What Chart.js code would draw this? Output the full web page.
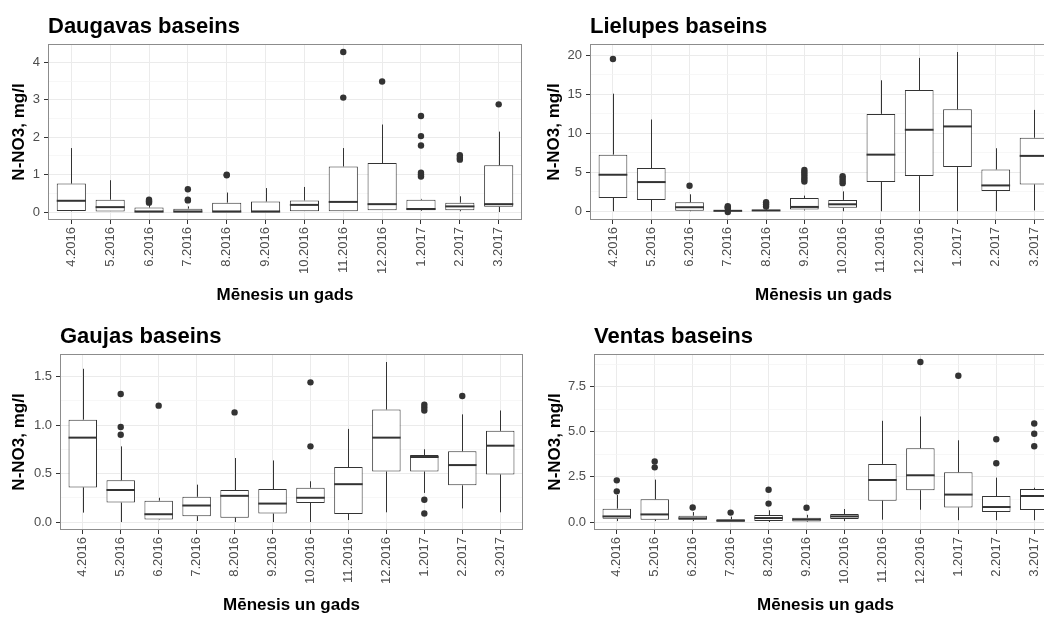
<!DOCTYPE html>
<html>
<head>
<meta charset="utf-8">
<script src="https://cdn.jsdelivr.net/npm/chart.js@4"></script>
<style>
  html, body { margin: 0; padding: 0; overflow: hidden; background: #fff; }
  #wrap { position: relative; width: 1044px; height: 617px; overflow: hidden; }
  canvas { position: absolute; }
</style>
</head>
<body>
<div id="wrap">
  <canvas id="cDaug" width="522" height="310" style="left:0;top:0"></canvas>
  <canvas id="cLiel" width="535" height="310" style="left:522px;top:0"></canvas>
  <canvas id="cGauj" width="523" height="310" style="left:0;top:310px"></canvas>
  <canvas id="cVent" width="535" height="310" style="left:522px;top:310px"></canvas>
</div>
<script>
const months = ['4.2016', '5.2016', '6.2016', '7.2016', '8.2016', '9.2016', '10.2016', '11.2016', '12.2016', '1.2017', '2.2017', '3.2017'];

// Daugavas baseins
const daugLo  = [0.02, 0, 0, 0, 0, 0, 0.02, 0.02, 0.05, 0.03, 0.02, 0];
const daugQ1  = [0.03, 0, 0, 0, 0, 0, 0.02, 0.02, 0.05, 0.05, 0.05, 0.14];
const daugMed = [0.30, 0.13, 0.01, 0.01, 0.01, 0.01, 0.19, 0.27, 0.21, 0.08, 0.15, 0.21];
const daugQ3  = [0.76, 0.33, 0.12, 0.09, 0.25, 0.28, 0.31, 1.22, 1.31, 0.33, 0.25, 1.25];
const daugHi  = [1.71, 0.85, 0.20, 0.15, 0.52, 0.64, 0.67, 1.71, 2.34, 0.35, 0.42, 2.15];
const daugOut = [[], [], [0.25, 0.29, 0.33], [0.31, 0.33, 0.61], [0.98, 1.0], [], [], [3.06, 4.28], [3.49], [0.95, 1.0, 1.05, 1.78, 2.03, 2.57], [1.40, 1.45, 1.52], [2.88]];

// Lielupes baseins
const lielLo  = [0, 0, 0, 0, 0, 0.1, 0, 0, 0, 0, 0, 0.1];
const lielQ1  = [1.70, 1.45, 0.06, 0, 0, 0.21, 0.43, 3.74, 4.51, 5.66, 2.6, 3.44];
const lielMed = [4.68, 3.74, 0.51, 0.05, 0.1, 0.55, 0.89, 7.26, 10.45, 10.88, 3.31, 7.1];
const lielQ3  = [7.26, 5.53, 1.15, 0.1, 0.2, 1.70, 1.45, 12.49, 15.54, 13.08, 5.35, 9.43];
const lielHi  = [15.08, 11.77, 2.17, 0.2, 0.4, 2.0, 2.55, 16.8, 19.67, 20.43, 8.08, 13.0];
const lielOut = [[19.54], [], [3.27], [-0.1, 0.35, 0.5, 0.65], [0.6, 0.9, 1.15], [3.8, 4.1, 4.4, 4.7, 5.0, 5.3], [3.6, 3.9, 4.2, 4.5], [], [], [], [], []];

// Gaujas baseins
const gaujLo  = [0.097, 0, 0.02, 0.01, 0, 0, 0, 0.02, 0.10, 0.30, 0.14, 0.10];
const gaujQ1  = [0.357, 0.20, 0.025, 0.06, 0.045, 0.087, 0.196, 0.083, 0.52, 0.52, 0.378, 0.49];
const gaujMed = [0.87, 0.33, 0.08, 0.17, 0.27, 0.19, 0.25, 0.39, 0.87, 0.67, 0.587, 0.787];
const gaujQ3  = [1.055, 0.43, 0.22, 0.26, 0.33, 0.34, 0.354, 0.566, 1.16, 0.69, 0.73, 0.94];
const gaujHi  = [1.58, 0.78, 0.25, 0.385, 0.66, 0.635, 0.42, 0.96, 1.65, 0.75, 1.11, 1.15];
const gaujOut = [[], [0.90, 0.98, 1.32], [1.20], [], [1.13], [], [0.78, 1.44], [], [], [0.087, 0.23, 1.15, 1.18, 1.21], [1.30], []];

// Ventas baseins
const ventLo  = [0.05, 0.05, 0.05, 0, 0, 0, 0.05, 0.13, 0.68, 0.1, 0.1, 0.1];
const ventQ1  = [0.18, 0.13, 0.13, 0, 0.06, 0.03, 0.17, 1.18, 1.76, 0.81, 0.56, 0.67];
const ventMed = [0.31, 0.42, 0.2, 0.07, 0.22, 0.14, 0.31, 2.33, 2.59, 1.52, 0.83, 1.44];
const ventQ3  = [0.74, 1.26, 0.35, 0.15, 0.39, 0.24, 0.44, 3.22, 4.09, 2.76, 1.44, 1.83];
const ventHi  = [1.5, 2.35, 0.55, 0.3, 0.65, 0.4, 0.72, 5.61, 5.85, 4.53, 2.46, 1.9];
const ventOut = [[1.70, 2.31], [3.03, 3.35], [0.80], [0.52], [1.02, 1.79], [0.79], [], [], [8.87], [8.11], [3.26, 4.59], [4.2, 4.89, 5.46]];

// y tick positions (major ones get a label, the rest are minor grid lines)
const daugTicks = [0, 0.5, 1, 1.5, 2, 2.5, 3, 3.5, 4];
const daugMajor = [0, 1, 2, 3, 4];
const lielTicks = [0, 2.5, 5, 7.5, 10, 12.5, 15, 17.5, 20];
const lielMajor = [0, 5, 10, 15, 20];
const gaujTicks = [0, 0.25, 0.5, 0.75, 1, 1.25, 1.5];
const gaujMajor = [0, 0.5, 1, 1.5];
const ventTicks = [0, 1.25, 2.5, 3.75, 5, 6.25, 7.5, 8.75];
const ventMajor = [0, 2.5, 5, 7.5];

Chart.defaults.font.family = '"Liberation Sans", Arial, sans-serif';

// whiskers, medians, panel border and panel title
const boxLines = {
  id: 'boxLines',
  beforeDatasetsDraw(chart, args, o) {
    const {ctx, scales: {x, y}} = chart;
    ctx.save();
    ctx.strokeStyle = '#333';
    ctx.lineWidth = 1;
    o.lo.forEach((lo, i) => {
      const px = Math.round(x.getPixelForValue(i + 1)) + 0.5;
      ctx.beginPath();
      ctx.moveTo(px, y.getPixelForValue(lo));
      ctx.lineTo(px, y.getPixelForValue(o.q1[i]));
      ctx.moveTo(px, y.getPixelForValue(o.q3[i]));
      ctx.lineTo(px, y.getPixelForValue(o.hi[i]));
      ctx.stroke();
    });
    ctx.restore();
  },
  afterDatasetsDraw(chart, args, o) {
    const {ctx, scales: {x, y}, chartArea: a} = chart;
    const bars = chart.getDatasetMeta(1).data;
    ctx.save();
    ctx.strokeStyle = '#333';
    ctx.lineWidth = 2;
    o.med.forEach((m, i) => {
      const px = x.getPixelForValue(i + 1);
      const hw = bars[i].width / 2;
      const py = y.getPixelForValue(m);
      ctx.beginPath();
      ctx.moveTo(px - hw, py);
      ctx.lineTo(px + hw, py);
      ctx.stroke();
    });
    ctx.strokeStyle = '#8c8c8c';
    ctx.lineWidth = 1;
    ctx.strokeRect(a.left + 0.5, a.top + 0.5, a.right - a.left - 1, a.bottom - a.top - 1);
    ctx.fillStyle = '#000';
    ctx.font = 'bold 22px "Liberation Sans", Arial, sans-serif';
    ctx.textBaseline = 'alphabetic';
    ctx.fillText(o.title, a.left, 33);
    ctx.restore();
  }
};

function boxChart(id, title, lo, q1, med, q3, hi, out, ticks, major, dec, yWidth, yTitlePad) {
  const all = lo.concat(hi, out.flat());
  const dmin = Math.min(...all), dmax = Math.max(...all);
  const pad = (dmax - dmin) * 0.05;
  const outPts = [];
  out.forEach((vals, i) => vals.forEach(v => outPts.push({x: i + 1, y: v})));
  const boxes = months.map((m, i) => ({x: i + 1, y: [q1[i], q3[i]]}));
  const isMajor = v => major.some(t => Math.abs(t - v) < 1e-9);

  return new Chart(document.getElementById(id), {
    type: 'bar',
    data: {
      datasets: [
        {
          type: 'scatter',
          data: outPts,
          pointRadius: 3.2,
          pointBackgroundColor: '#333',
          pointBorderWidth: 0,
          order: 0
        },
        {
          data: boxes,
          backgroundColor: '#fff',
          borderColor: '#333',
          borderWidth: 1,
          borderSkipped: false,
          barPercentage: 0.75,
          categoryPercentage: 1,
          grouped: false,
          order: 1
        }
      ]
    },
    options: {
      responsive: false,
      animation: false,
      devicePixelRatio: 1,
      layout: { autoPadding: false, padding: { top: 44, left: 0, right: 0, bottom: 0 } },
      plugins: {
        legend: { display: false },
        tooltip: { enabled: false },
        boxLines: { title, lo, q1, med, q3, hi }
      },
      scales: {
        x: {
          type: 'linear',
          min: 0.4,
          max: 12.6,
          offset: false,
          afterBuildTicks: s => { s.ticks = months.map((m, i) => ({value: i + 1})); },
          afterFit: s => { s.height = 90; s.paddingLeft = 0; s.paddingRight = 0; },
          ticks: {
            autoSkip: false,
            minRotation: 90,
            maxRotation: 90,
            padding: 3,
            color: '#4d4d4d',
            font: { size: 13 },
            callback: v => months[v - 1]
          },
          grid: { offset: false, color: '#ebebeb', lineWidth: 1, tickColor: '#333', tickLength: 4 },
          border: { display: false },
          title: {
            display: true,
            text: 'Mēnesis un gads',
            color: '#000',
            font: { size: 17, weight: 'bold' },
            padding: { top: 0, bottom: 4 }
          }
        },
        y: {
          min: dmin - pad,
          max: dmax + pad,
          afterBuildTicks: s => { s.ticks = ticks.map(v => ({value: v})); },
          afterFit: s => { s.width = yWidth; s.paddingTop = 0; s.paddingBottom = 0; },
          ticks: {
            padding: 4,
            color: '#4d4d4d',
            font: { size: 13 },
            callback: v => isMajor(v) ? v.toFixed(dec) : ''
          },
          grid: {
            color: c => isMajor(c.tick.value) ? '#ebebeb' : '#f4f4f4',
            lineWidth: c => isMajor(c.tick.value) ? 1 : 0.7,
            tickColor: c => isMajor(c.tick.value) ? '#333' : 'rgba(0,0,0,0)',
            tickLength: 4
          },
          border: { display: false },
          title: {
            display: true,
            text: 'N-NO3, mg/l',
            color: '#000',
            font: { size: 17, weight: 'bold' },
            padding: { top: yTitlePad, bottom: 0 }
          }
        }
      }
    },
    plugins: [boxLines]
  });
}

boxChart('cDaug', 'Daugavas baseins', daugLo, daugQ1, daugMed, daugQ3, daugHi, daugOut, daugTicks, daugMajor, 0, 48, 9);
boxChart('cLiel', 'Lielupes baseins', lielLo, lielQ1, lielMed, lielQ3, lielHi, lielOut, lielTicks, lielMajor, 0, 68, 22);
boxChart('cGauj', 'Gaujas baseins', gaujLo, gaujQ1, gaujMed, gaujQ3, gaujHi, gaujOut, gaujTicks, gaujMajor, 1, 60, 9);
boxChart('cVent', 'Ventas baseins', ventLo, ventQ1, ventMed, ventQ3, ventHi, ventOut, ventTicks, ventMajor, 1, 72, 23);
</script>
</body>
</html>
